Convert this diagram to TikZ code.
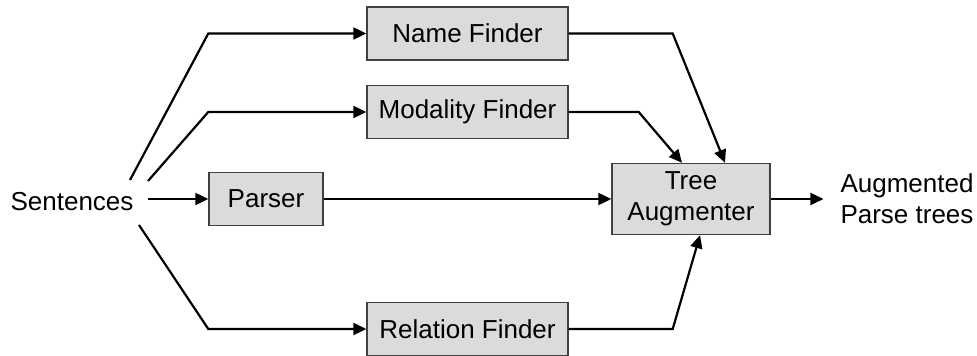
\documentclass[tikz,border=0pt]{standalone}
\usepackage{fontspec}
\setmainfont{Liberation Sans}
\usetikzlibrary{arrows.meta,positioning,calc}

\begin{document}
\begin{tikzpicture}[x=0.5pt, y=-0.5pt,
  every node/.style={font=\fontsize{13}{15.5}\selectfont},
  block/.style={draw=black!75, line width=0.7pt, fill=black!14,
    minimum height=26.5pt, inner sep=0pt},
  flow/.style={line width=1.1pt, -{Triangle[length=6.5pt,width=6pt]}}]
\useasboundingbox (0,0) rectangle (977,356);
% Input and output texts
\node (sent) at (72,202) {Sentences};
\node [align=left] (out) at (907,199) {Augmented\\Parse trees};
% Processing boxes
\node [block, minimum width=100.5pt] (name) at (467.5,33.5) {Name Finder};
\node [block, minimum width=100.5pt] (modal) at (467.5,112) {Modality Finder};
\node [block, minimum width=57pt] (parser) at (266,199) {Parser};
\node [block, minimum width=100.5pt] (rel) at (467.5,329) {Relation Finder};
\node [block, minimum width=79pt, minimum height=35.5pt, align=center]
	(tree) at (691,199) {Tree\\Augmenter};
% Free ends next to the input
\coordinate (s1) at (130,180);
\coordinate (s2) at (148,181);
\coordinate (s3) at (148,199);
\coordinate (s4) at (139,225);
% From the sentences to the finders and the parser
\draw [flow] (s1) -- (name.west -| parser.west) -- (name.west);
\draw [flow] (s2) -- (modal.west -| parser.west) -- (modal.west);
\draw [flow] (s3) -- (parser.west);
\draw [flow] (s4) -- (rel.west -| parser.west) -- (rel.west);
% Into the tree augmenter
\draw [flow] (name.east) -- ++(104,0) -- ($(tree.north)+(34,0)$);
\draw [flow] (modal.east) -- ++(70,0) -- ($(tree.north)+(-9,0)$);
\draw [flow] (parser.east) -- (tree.west);
\draw [flow] (rel.east) -- ++(104,0) -- ($(tree.south)+(9,0)$);
% Output
\draw [flow, shorten >=5pt] (tree.east) -- (out.west);
\end{tikzpicture}
\end{document}
